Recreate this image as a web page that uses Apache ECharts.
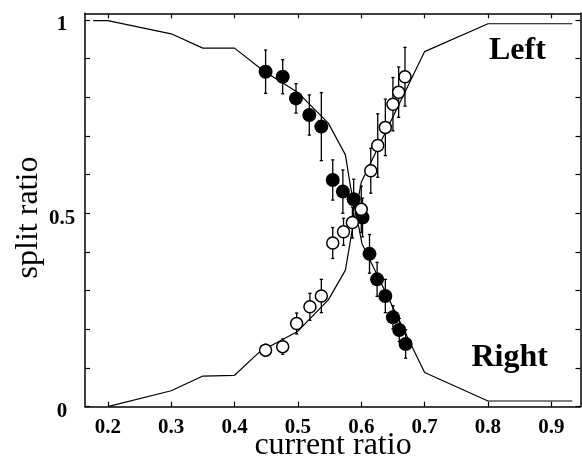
<!DOCTYPE html>
<html>
<head>
<meta charset="utf-8">
<script src="https://cdn.jsdelivr.net/npm/echarts@6/dist/echarts.min.js"></script>
<style>html,body{margin:0;padding:0;background:#fff}#c{width:582px;height:463px}</style>
</head>
<body>
<div id="c"></div>
<script>
// Tick values
const xTicks = [0.2, 0.3, 0.4, 0.5, 0.6, 0.7, 0.8, 0.9];
const yTicks = [0, 0.1, 0.2, 0.3, 0.4, 0.5, 0.6, 0.7, 0.8, 0.9, 1.0];
const yLabels = [0, 0.5, 1];

// Filled circles (descending)
const filledX = [0.449, 0.476, 0.497, 0.518, 0.537, 0.555, 0.571, 0.588, 0.602, 0.613, 0.625, 0.638, 0.650, 0.660, 0.670];
const filledY = [0.866, 0.853, 0.797, 0.754, 0.724, 0.586, 0.556, 0.536, 0.489, 0.395, 0.329, 0.286, 0.231, 0.198, 0.162];
const filledErr = [0.056, 0.044, 0.038, 0.052, 0.088, 0.052, 0.056, 0.052, 0.05, 0.05, 0.044, 0.043, 0.03, 0.03, 0.037];

// Open circles (ascending)
const openX = [0.449, 0.476, 0.498, 0.519, 0.537, 0.555, 0.572, 0.586, 0.600, 0.615, 0.626, 0.638, 0.650, 0.659, 0.669];
const openY = [0.146, 0.155, 0.215, 0.258, 0.286, 0.423, 0.452, 0.476, 0.510, 0.610, 0.675, 0.722, 0.782, 0.813, 0.853];
const openErr = [0.015, 0.02, 0.027, 0.035, 0.043, 0.04, 0.035, 0.04, 0.06, 0.058, 0.082, 0.073, 0.069, 0.065, 0.076];

// Model curves
const curveAx = [0.177, 0.2, 0.3, 0.35, 0.4, 0.446, 0.5, 0.548, 0.575, 0.583, 0.597, 0.601, 0.7, 0.8, 0.933];
const curveAy = [0.998, 0.998, 0.964, 0.927, 0.927, 0.868, 0.812, 0.733, 0.651, 0.569, 0.457, 0.422, 0.088, 0.0145, 0.0145];
const curveBx = [0.2, 0.3, 0.35, 0.4, 0.44, 0.5, 0.548, 0.575, 0.584, 0.6, 0.7, 0.8, 0.933];
const curveBy = [0.0, 0.041, 0.079, 0.081, 0.142, 0.195, 0.276, 0.353, 0.44, 0.58, 0.918, 0.99, 0.99];

const zip = (a, b) => a.map((v, i) => [v, b[i]]);
const zip3 = (a, b, c) => a.map((v, i) => [v, b[i], c[i]]);

const serif = 'Liberation Serif';

function errRender(params, api) {
  const x = api.value(0), y = api.value(1), e = api.value(2);
  const lo = api.coord([x, y - e]);
  const hi = api.coord([x, y + e]);
  const cw = 1.6;
  const st = { stroke: '#000', lineWidth: 1.3 };
  return {
    type: 'group',
    children: [
      { type: 'line', shape: { x1: lo[0], y1: lo[1], x2: hi[0], y2: hi[1] }, style: st },
      { type: 'line', shape: { x1: lo[0] - cw, y1: lo[1], x2: lo[0] + cw, y2: lo[1] }, style: st },
      { type: 'line', shape: { x1: hi[0] - cw, y1: hi[1], x2: hi[0] + cw, y2: hi[1] }, style: st }
    ]
  };
}

const chart = echarts.init(document.getElementById('c'), null, { renderer: 'canvas' });
const axisLine = { show: true, onZero: false, lineStyle: { color: '#000', width: 1.5 } };
const tick = (vals) => ({ show: true, inside: true, length: 5, customValues: vals, lineStyle: { color: '#000', width: 1.2 } });

chart.setOption({
  animation: false,
  backgroundColor: '#fff',
  grid: { left: 85, right: 1.5, top: 13.3, bottom: 56.4, containLabel: false },
  xAxis: [
    {
      type: 'value', position: 'bottom', min: 0.164, max: 0.946,
      axisLine: axisLine, axisTick: tick(xTicks), splitLine: { show: false },
      axisLabel: {
        customValues: xTicks, margin: 10, color: '#000',
        fontFamily: serif, fontWeight: 'bold', fontSize: 21,
        formatter: v => v.toFixed(1)
      }
    },
    {
      type: 'value', position: 'top', min: 0.164, max: 0.946,
      axisLine: axisLine, axisTick: tick(xTicks), splitLine: { show: false },
      axisLabel: { show: false }
    }
  ],
  yAxis: [
    {
      type: 'value', position: 'left', min: 0, max: 1.017,
      axisLine: axisLine, axisTick: tick(yTicks), splitLine: { show: false },
      axisLabel: {
        customValues: yLabels, margin: 23, align: 'center', color: '#000',
        fontFamily: serif, fontWeight: 'bold', fontSize: 21,
        formatter: v => '{a|' + (Math.abs(v - 0.5) < 1e-6 ? '0.5' : String(Math.round(v))) + '}',
        rich: {
          a: { fontFamily: serif, fontWeight: 'bold', fontSize: 21, color: '#000', padding: [10, 0, 0, 0] }
        }
      }
    },
    {
      type: 'value', position: 'right', min: 0, max: 1.017,
      axisLine: axisLine, axisTick: tick(yTicks), splitLine: { show: false },
      axisLabel: { show: false }
    }
  ],
  graphic: [
    { type: 'text', x: 489, y: 51, style: { text: 'Left', font: 'bold 32px "Liberation Serif"', fill: '#000', textAlign: 'left', textVerticalAlign: 'middle' } },
    { type: 'text', x: 471.5, y: 358, style: { text: 'Right', font: 'bold 32px "Liberation Serif"', fill: '#000', textAlign: 'left', textVerticalAlign: 'middle' } },
    { type: 'text', x: 333, y: 446, style: { text: 'current ratio', font: '32px "Liberation Serif"', fill: '#000', textAlign: 'center', textVerticalAlign: 'middle' } },
    { type: 'text', x: 29, y: 217.5, rotation: Math.PI / 2, style: { text: 'split ratio', font: '32px "Liberation Serif"', fill: '#000', textAlign: 'center', textVerticalAlign: 'middle' } }
  ],
  series: [
    { type: 'line', data: zip(curveAx, curveAy), symbol: 'none', lineStyle: { color: '#000', width: 1.2 }, z: 1 },
    { type: 'line', data: zip(curveBx, curveBy), symbol: 'none', lineStyle: { color: '#000', width: 1.2 }, z: 1 },
    { type: 'custom', data: zip3(filledX, filledY, filledErr), renderItem: errRender, z: 2 },
    { type: 'scatter', data: zip(filledX, filledY), symbol: 'circle', symbolSize: 14, itemStyle: { color: '#000', opacity: 1 }, z: 3 },
    { type: 'custom', data: zip3(openX, openY, openErr), renderItem: errRender, z: 4 },
    { type: 'scatter', data: zip(openX, openY), symbol: 'circle', symbolSize: 12, itemStyle: { color: '#fff', borderColor: '#000', borderWidth: 1.5, opacity: 1 }, z: 5 }
  ]
});
</script>
</body>
</html>
